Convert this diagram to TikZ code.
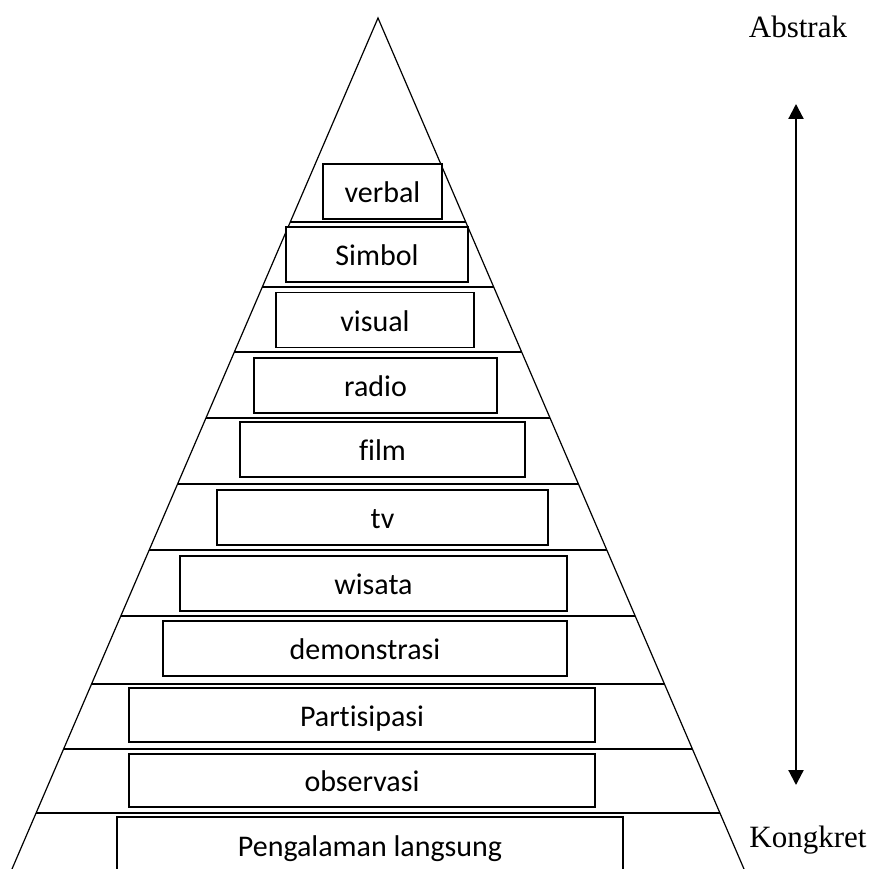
\documentclass[tikz,border=0pt]{standalone}
\usepackage{fontspec}
\setmainfont{Carlito}[Ligatures=NoCommon]
\newfontfamily\serifrm{Liberation Serif}
\usetikzlibrary{arrows.meta,calc}

\begin{document}
\begin{tikzpicture}[x=1pt,y=-1pt]
\tikzstyle{every node}+=[inner sep=0pt]
\tikzstyle{rung}=[draw=black, line width=1.4pt, fill=white, minimum height=55pt, text height=22pt, text depth=0pt, font=\fontsize{30}{34}\selectfont]
\tikzstyle{edge}=[black, line width=1.2pt]
\tikzstyle{side}=[font=\fontsize{31}{36}\selectfont\serifrm, anchor=base]
\useasboundingbox (0,0) rectangle (872,869);
% pyramid
\coordinate (top) at (378,18);
\coordinate (bl) at (12,869);
\coordinate (br) at (744,869);
\draw [edge] (bl) -- (top) -- (br);
\foreach \y in {222,287,352,418,484,550,616,684,749,813}
  \draw [edge] ($(top)!{(\y-18)/851}!(bl)$) -- ($(top)!{(\y-18)/851}!(br)$);
% levels
\node [rung, minimum width=119pt] (verbal) at (382.5,191.5) {verbal};
\node [rung, minimum width=182pt] (simbol) at (377,254.5) {Simbol};
\node [rung, minimum width=198pt] (visual) at (375,320) {visual};
\node [rung, minimum width=243pt] (radio) at (375.5,385.5) {radio};
\node [rung, minimum width=285pt] (film) at (382.5,449.5) {film};
\node [rung, minimum width=331pt] (tv) at (382.5,517.5) {tv};
\node [rung, minimum width=387pt] (wisata) at (373.5,583.5) {wisata};
\node [rung, minimum width=404pt] (demo) at (365,648.5) {demonstrasi};
\node [rung, minimum width=466pt, minimum height=54pt] (partisipasi) at (362,715) {Partisipasi};
\node [rung, minimum width=466pt, minimum height=53pt] (observasi) at (362,780.5) {observasi};
\node [rung, minimum width=506pt, minimum height=56pt] (langsung) at (370,845) {Pengalaman langsung};
% scale
\node [side] (abstrak) at (798,38) {Abstrak};
\node [side] (kongkret) at (808,847) {Kongkret};
\coordinate (up) at (796,104);
\coordinate (down) at (796,785);
\draw [black, line width=2.2pt, {Triangle[width=15pt,length=15pt]}-{Triangle[width=15pt,length=15pt]}] (down) -- (up);
\end{tikzpicture}
\end{document}
